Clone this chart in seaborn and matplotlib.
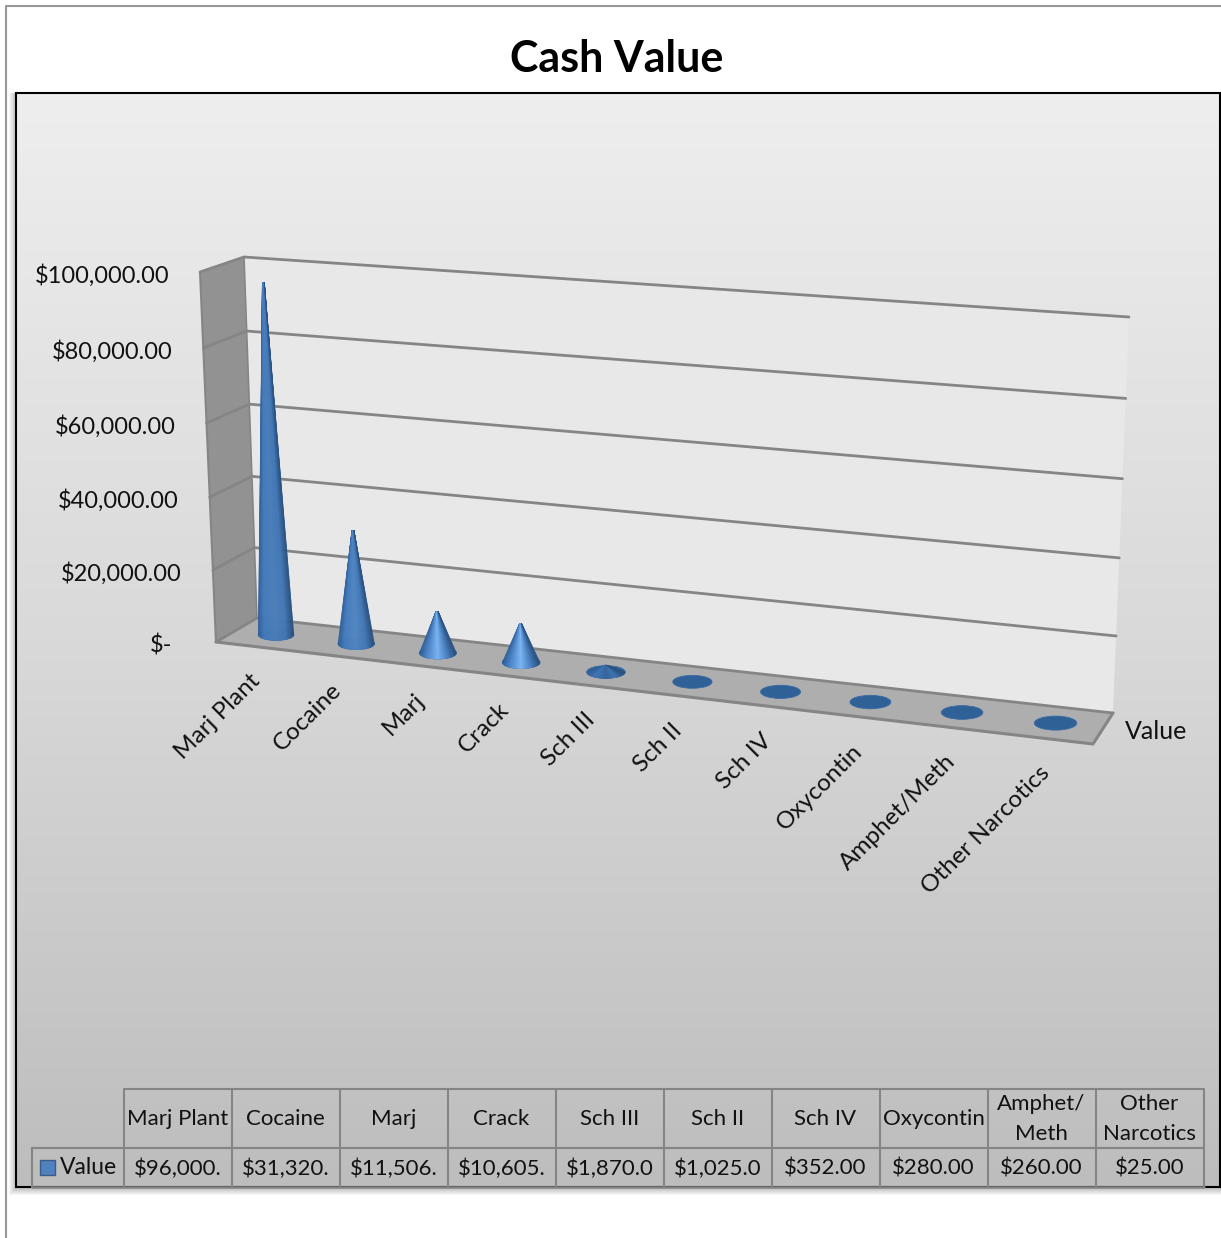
import numpy as np
import pandas as pd
import matplotlib
matplotlib.use("Agg")
import matplotlib.pyplot as plt
from matplotlib.collections import PolyCollection
from matplotlib.colors import LinearSegmentedColormap, to_rgb
from matplotlib.patches import Ellipse, Polygon, Rectangle
import seaborn as sns

# Chart data
categories = ["Marj Plant", "Cocaine", "Marj", "Crack", "Sch III", "Sch II",
              "Sch IV", "Oxycontin", "Amphet/Meth", "Other Narcotics"]
table_headers = ["Marj Plant", "Cocaine", "Marj", "Crack", "Sch III", "Sch II",
                 "Sch IV", "Oxycontin", "Amphet/\nMeth", "Other\nNarcotics"]
values = [96000, 31320, 11506, 10605, 1870, 1025, 352, 280, 260, 25]
y_ticks = [0, 20000, 40000, 60000, 80000, 100000]
y_labels = ["$-", "$20,000.00", "$40,000.00", "$60,000.00", "$80,000.00", "$100,000.00"]
series_name = "Value"
chart_title = "Cash Value"

W, H = 1221, 1238
FONT = "Lato"
GRID = "#858585"

sns.set_theme(style="white")
plt.rcParams["font.family"] = [FONT, "DejaVu Sans"]


def homography(corners):
    """ Unit square (bl, br, tr, tl) to the given pixel corners. """
    src = [(0, 0), (1, 0), (1, 1), (0, 1)]
    a, b = [], []
    for (u, v), (x, y) in zip(src, corners):
        a.append([u, v, 1, 0, 0, 0, -u * x, -v * x])
        a.append([0, 0, 0, u, v, 1, -u * y, -v * y])
        b += [x, y]
    return np.append(np.linalg.solve(np.array(a, float), np.array(b, float)), 1).reshape(3, 3)


H_BACK = homography([(257, 618), (1113, 713), (1129, 317), (244, 257)])
H_FRONT = homography([(216, 642), (1093, 744), (1110, 340), (200, 272)])


def project(u, v, depth=0.0):
    """ Chart box position (fractions of width, height, depth) to pixels. """
    pts = []
    for m in (H_BACK, H_FRONT):
        p = m @ np.array([u, v, 1.0])
        pts.append(p[:2] / p[2])
    return (1 - depth) * pts[0] + depth * pts[1]


def mix(c1, c2, t):
    return tuple((1 - t) * np.array(to_rgb(c1)) + t * np.array(to_rgb(c2)))


fig = plt.figure(figsize=(W / 100, H / 100), dpi=100, facecolor="white")

# Scale axes: seaborn does the bars, the perspective is applied to them afterwards
scale_ax = fig.add_axes([0, 0, 1, 1])
df = pd.DataFrame({"category": categories, "value": values})
sns.barplot(data=df, x="category", y="value", width=0.45, ax=scale_ax)
scale_ax.set_xlim(-0.5, len(categories) - 0.5)
scale_ax.set_ylim(y_ticks[0], y_ticks[-1])
scale_ax.set_visible(False)
to_frac = scale_ax.transData + scale_ax.transAxes.inverted()

ax = fig.add_axes([0, 0, 1, 1])
ax.set_axis_off()

# Page border
ax.plot([6, 6, W], [H, 5.5, 5.5], color="#999999", lw=1.5, zorder=1)

# Chart area shadow, gradient and frame
for k in range(1, 8):
    ax.add_patch(Rectangle((16 - k, 93), 1204 + 2 * k, 1094 + k + 1, color="black",
                           alpha=0.035, lw=0, zorder=1))
grad = LinearSegmentedColormap.from_list("bg", ["#eeeeee", "#d9d9d9", "#bdbdbd"])
ax.imshow(np.linspace(0, 1, 256).reshape(-1, 1), cmap=grad, aspect="auto",
          extent=(16, 1220, 1187, 93), zorder=2)
ax.add_patch(Rectangle((16, 93), 1204, 1094, fill=False, ec="black", lw=1.5, zorder=3))
ax.set_xlim(0, W)
ax.set_ylim(H, 0)

# Walls and floor
ax.add_patch(Polygon([project(0, 0), project(1, 0), project(1, 1), project(0, 1)],
                     fc="#e8e8e8", ec="none", zorder=4))
ax.add_patch(Polygon([project(0, 0), project(0, 0, 1), project(0, 1, 1), project(0, 1)],
                     fc="#929292", ec="none", zorder=4))
ax.add_patch(Polygon([project(0, 0), project(1, 0), project(1, 0, 1), project(0, 0, 1)],
                     fc="#aeaeae", ec="none", zorder=4))

# Gridlines on the back and side walls
for tick in y_ticks:
    _, frac = to_frac.transform((0, tick))
    line = np.array([project(0, frac, 1), project(0, frac), project(1, frac)])
    ax.plot(line[:, 0], line[:, 1], color=GRID, lw=2.0, zorder=5, solid_joinstyle="miter")
edge = np.array([project(0, 0, 1), project(1, 0, 1), project(1, 0)])
ax.plot(edge[:, 0], edge[:, 1], color=GRID, lw=2.2, zorder=5)
edge = np.array([project(0, 1, 1), project(0, 0, 1)])
ax.plot(edge[:, 0], edge[:, 1], color=GRID, lw=1.5, zorder=5)
edge = np.array([project(0, 1), project(0, 0)])
ax.plot(edge[:, 0], edge[:, 1], color=GRID, lw=1.2, zorder=5)

# Cones, built from the seaborn bars
for bar in scale_ax.patches:
    x_mid = bar.get_x() + bar.get_width() / 2
    u, frac = to_frac.transform((x_mid, bar.get_height()))
    half = (to_frac.transform((x_mid + bar.get_width() / 2, 0))[0] - u)
    base = project(u, 0, 0.5)
    tip = project(u, frac, 0.5)
    a = (project(u + half, 0, 0.5)[0] - project(u - half, 0, 0.5)[0]) / 2
    b = a * 0.33
    height = base[1] - tip[1]

    ax.add_patch(Ellipse(base, 2 * a, 2 * b, fc="#2f6096", ec="#3a6ca5", lw=0.6, zorder=6))
    if height <= b * 0.9:
        continue

    glow = np.interp(height, [8, 35, 110, 350], [0.0, 1.0, 0.4, 0.3])
    highlight = mix("#34659e", "#80baf8", glow)
    side = max(glow, 0.15) ** 0.3
    shade = LinearSegmentedColormap.from_list("cone", [
        (0.0, "#305f98"), (0.18, mix("#34659e", "#4c84c8", side)),
        (0.5, highlight), (0.78, mix("#34659e", "#4a80c0", side)),
        (1.0, "#2a517f")])
    s = np.linspace(-1, 1, 81)
    rim_x = base[0] + a * s
    rim_y = base[1] + b * np.sqrt(1 - s ** 2)
    # slightly blunt tip, as the rendered cones have
    top_x = tip[0] + 1.2 * s
    strips = [[(top_x[i], tip[1]), (top_x[i + 1], tip[1]), (rim_x[i + 1], rim_y[i + 1]),
               (rim_x[i], rim_y[i])] for i in range(len(s) - 1)]
    cols = [shade((s[i] + s[i + 1]) / 4 + 0.5) for i in range(len(s) - 1)]
    ax.add_collection(PolyCollection(strips, facecolors=cols, edgecolors=cols, linewidths=0.25, zorder=7))

# Value axis labels
for tick, label in zip(y_ticks, y_labels):
    _, frac = to_frac.transform((0, tick))
    px = project(0, frac, 1)
    shift = 44 if tick == 0 else 31
    ax.text(px[0] - shift, px[1] + 3.5, label, ha="right", va="center", fontsize=17,
            color="#111111", zorder=8)

# Category labels
for i, label in enumerate(categories):
    u, _ = to_frac.transform((i, 0))
    px = project(u, 0, 1)
    ax.text(px[0] + 1, px[1] + 31, label, rotation=45, rotation_mode="anchor", ha="right",
            va="center", fontsize=17.5, color="#111111", zorder=8)

# Series label
px = project(1, 0, 0.5)
ax.text(px[0] + 22, px[1] + 3, series_name, ha="left", va="center", fontsize=18,
        color="#111111", zorder=8)

# Title
ax.text(617, 59, chart_title, ha="center", va="center", fontsize=31, fontweight="bold",
        color="black", zorder=8)

# Data table
col_x = np.arange(124, 1205, 108)
row_y = [1089, 1148, 1187]
ax.plot([col_x[0], col_x[-1]], [row_y[0], row_y[0]], color=GRID, lw=1.5, zorder=8)
ax.plot([32, col_x[-1]], [row_y[1], row_y[1]], color=GRID, lw=1.5, zorder=8)
ax.plot([32, col_x[-1]], [row_y[2], row_y[2]], color=GRID, lw=1.8, zorder=8)
ax.plot([32, 32], [row_y[1], row_y[2]], color=GRID, lw=1.5, zorder=8)
for x in col_x:
    ax.plot([x, x], [row_y[0], row_y[2]], color=GRID, lw=1.5, zorder=8)
for i, (header, value) in enumerate(zip(table_headers, values)):
    cx = (col_x[i] + col_x[i + 1]) / 2
    ax.text(cx - 0.5, (row_y[0] + row_y[1]) / 2 + 0.5, header, ha="center", va="center", fontsize=16,
            color="#111111", linespacing=1.6, zorder=9)
    ax.text(cx - 0.5, (row_y[1] + row_y[2]) / 2 + 1, f"${value:,.2f}"[:8], ha="center", va="center",
            fontsize=16, color="#111111", zorder=9)
ax.add_patch(Rectangle((40, 1160), 15, 15, fc="#4f81bd", ec="#385d8a", lw=1, zorder=9))
ax.text(60, 1168, series_name, ha="left", va="center", fontsize=16.5, color="#111111", zorder=9)

fig.savefig("out.png", dpi=100, facecolor="white")
